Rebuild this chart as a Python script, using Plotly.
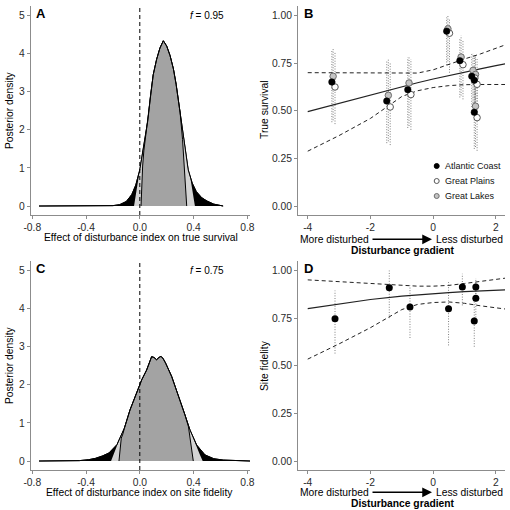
import plotly.graph_objects as go

# ---------------- Panel A: posterior density, true survival ----------------
A_x = [-0.75, -0.5, -0.3, -0.2, -0.15, -0.1, -0.06, -0.03, 0.0, 0.02, 0.04, 0.06, 0.08, 0.10,
       0.125, 0.15, 0.175, 0.20, 0.225, 0.25, 0.27, 0.30, 0.33, 0.36, 0.39, 0.42, 0.46, 0.50,
       0.55, 0.60, 0.62]
A_y = [0, 0, 0.002, 0.01, 0.035, 0.12, 0.3, 0.55, 0.95, 1.35, 1.75, 2.25, 2.9, 3.45,
       3.85, 4.15, 4.34, 4.2, 3.95, 3.6, 3.2, 2.45, 1.6, 0.95, 0.6, 0.38, 0.22, 0.13,
       0.05, 0.015, 0]
A_light_left_x = [-0.043, -0.027, -0.012]
A_light_left_y = [0, 0.4, 0.72]
A_light_right_x = [0.377, 0.393, 0.41]
A_light_right_y = [0.72, 0.38, 0]
A_dark_left_x = [0.009, 0.014, 0.021, 0.03]
A_dark_left_y = [0, 0.55, 1.05, 1.45]
A_dark_right_x = [0.318, 0.327, 0.338, 0.349]
A_dark_right_y = [1.75, 1.15, 0.55, 0]
A_f = "<i>f</i> = 0.95"

# ---------------- Panel C: posterior density, site fidelity ----------------
C_x = [-0.75, -0.55, -0.45, -0.38, -0.33, -0.28, -0.23, -0.17, -0.115, -0.073, -0.023, 0.014,
       0.051, 0.075, 0.088, 0.105, 0.125, 0.143, 0.158, 0.175, 0.192, 0.237, 0.287, 0.336,
       0.374, 0.423, 0.485, 0.55, 0.62, 0.70, 0.82]
C_y = [0, 0.002, 0.01, 0.035, 0.07, 0.13, 0.21, 0.43, 0.86, 1.34, 1.78, 2.13,
       2.39, 2.62, 2.74, 2.72, 2.66, 2.72, 2.75, 2.68, 2.57, 2.22, 1.73, 1.21,
       0.81, 0.42, 0.16, 0.06, 0.025, 0.008, 0]
C_light_left_x = [-0.214, -0.19, -0.165]
C_light_left_y = [0, 0.25, 0.45]
C_light_right_x = [0.40, 0.425, 0.448, 0.468]
C_light_right_y = [0.57, 0.37, 0.16, 0]
C_dark_left_x = [-0.155, -0.148, -0.138, -0.125]
C_dark_left_y = [0, 0.3, 0.6, 0.72]
C_dark_right_x = [0.362, 0.372, 0.385, 0.398]
C_dark_right_y = [0.9, 0.65, 0.3, 0]
C_f = "<i>f</i> = 0.75"

# ---------------- Panel B: true survival vs disturbance ----------------
ac_x = [-3.23, -1.48, -0.81, 0.43, 0.85, 1.23, 1.31, 1.31]
ac_y = [0.651, 0.551, 0.611, 0.918, 0.763, 0.681, 0.660, 0.492]
ac_lo = [0.44, 0.33, 0.41, 0.74, 0.57, 0.52, 0.50, 0.30]
ac_hi = [0.82, 0.76, 0.78, 0.99, 0.88, 0.80, 0.79, 0.68]
gl_x = [-3.19, -1.43, -0.77, 0.47, 0.89, 1.27, 1.35, 1.35]
gl_y = [0.681, 0.581, 0.646, 0.93, 0.782, 0.712, 0.691, 0.524]
gl_lo = [0.45, 0.34, 0.42, 0.76, 0.58, 0.54, 0.52, 0.31]
gl_hi = [0.83, 0.77, 0.785, 1.0, 0.895, 0.80, 0.79, 0.70]
gp_x = [-3.13, -1.37, -0.71, 0.52, 0.95, 1.33, 1.40, 1.40]
gp_y = [0.625, 0.520, 0.585, 0.907, 0.742, 0.672, 0.639, 0.464]
gp_lo = [0.43, 0.32, 0.40, 0.70, 0.56, 0.50, 0.48, 0.29]
gp_hi = [0.81, 0.75, 0.77, 0.98, 0.87, 0.79, 0.78, 0.66]

fit_x = [-4, -3, -2, -1, -0.5, 0, 0.5, 1, 1.5, 2, 2.3]
B_fit = [0.496, 0.54, 0.584, 0.627, 0.647, 0.667, 0.686, 0.703, 0.72, 0.737, 0.747]
B_hi = [0.700, 0.699, 0.697, 0.695, 0.698, 0.715, 0.745, 0.772, 0.798, 0.828, 0.846]
B_lo = [0.288, 0.37, 0.46, 0.575, 0.605, 0.622, 0.632, 0.637, 0.638, 0.638, 0.638]

# ---------------- Panel D: site fidelity vs disturbance ----------------
d_x = [-3.13, -1.40, -0.74, 0.49, 0.93, 1.31, 1.36, 1.36]
d_y = [0.747, 0.910, 0.808, 0.800, 0.913, 0.735, 0.913, 0.855]
d_lo = [0.564, 0.75, 0.646, 0.607, 0.817, 0.60, 0.85, 0.74]
d_hi = [0.895, 1.0, 0.921, 0.939, 0.983, 0.84, 0.96, 0.94]
D_fit = [0.80, 0.825, 0.848, 0.866, 0.873, 0.879, 0.884, 0.889, 0.893, 0.897, 0.899]
D_hi = [0.951, 0.942, 0.932, 0.922, 0.918, 0.918, 0.922, 0.932, 0.943, 0.954, 0.96]
D_lo = [0.535, 0.615, 0.70, 0.795, 0.822, 0.832, 0.835, 0.828, 0.815, 0.805, 0.798]

dens_ticks = [-0.8, -0.4, 0.0, 0.4, 0.8]
dens_ticktext = ["-0.8", "-0.4", "0.0", "0.4", "0.8"]
dens_yticks = [0, 1, 2, 3, 4, 5]
grad_ticks = [-4, -2, 0, 2]
grad_ticktext = ["-4", "-2", "0", "2"]
prob_ticks = [0, 0.25, 0.5, 0.75, 1.0]
prob_ticktext = ["0.00", "0.25", "0.50", "0.75", "1.00"]

FONT = "Liberation Sans, Arial, sans-serif"
W = H = 510

fig = go.Figure()


def px2x(p):
    return p / W


def px2y(p):
    return 1 - p / H


def density_panel(xs, ys, llx, lly, lrx, lry, dlx, dly, drx, dry, xa, ya):
    # full density (black tails)
    fig.add_trace(go.Scatter(x=xs, y=ys, mode="lines", fill="toself", fillcolor="black",
                             line=dict(color="black", width=1), xaxis=xa, yaxis=ya,
                             showlegend=False, hoverinfo="skip"))
    # light grey interval
    mx = [v for v in xs if llx[-1] < v < lrx[0]]
    my = [ys[i] for i, v in enumerate(xs) if llx[-1] < v < lrx[0]]
    fig.add_trace(go.Scatter(x=llx + mx + lrx, y=lly + my + lry, mode="lines", fill="toself",
                             fillcolor="#d4d4d4", line=dict(width=0, color="#d4d4d4"),
                             xaxis=xa, yaxis=ya, showlegend=False, hoverinfo="skip"))
    # dark grey interval
    mx = [v for v in xs if dlx[-1] < v < drx[0]]
    my = [ys[i] for i, v in enumerate(xs) if dlx[-1] < v < drx[0]]
    fig.add_trace(go.Scatter(x=dlx + mx + drx, y=dly + my + dry, mode="lines", fill="toself",
                             fillcolor="#a3a3a3", line=dict(width=1, color="black"),
                             xaxis=xa, yaxis=ya, showlegend=False, hoverinfo="skip"))
    # outline on top
    fig.add_trace(go.Scatter(x=xs, y=ys, mode="lines", line=dict(color="black", width=1),
                             xaxis=xa, yaxis=ya, showlegend=False, hoverinfo="skip"))


density_panel(A_x, A_y, A_light_left_x, A_light_left_y, A_light_right_x, A_light_right_y,
              A_dark_left_x, A_dark_left_y, A_dark_right_x, A_dark_right_y, "x", "y")
density_panel(C_x, C_y, C_light_left_x, C_light_left_y, C_light_right_x, C_light_right_y,
              C_dark_left_x, C_dark_left_y, C_dark_right_x, C_dark_right_y, "x3", "y3")


def errbars(xs, lo, hi, xa, ya, color="#808080"):
    ex, ey = [], []
    for x, l, h in zip(xs, lo, hi):
        ex += [x, x, None]
        ey += [l, h, None]
    fig.add_trace(go.Scatter(x=ex, y=ey, mode="lines",
                             line=dict(color=color, width=1, dash="1px,1.6px"),
                             xaxis=xa, yaxis=ya, showlegend=False, hoverinfo="skip"))


def fitlines(fx, fit, lo, hi, xa, ya):
    for arr, dash, w in [(lo, "4px,3px", 1), (hi, "4px,3px", 1), (fit, "solid", 1.2)]:
        fig.add_trace(go.Scatter(x=fx, y=arr, mode="lines",
                                 line=dict(color="#222", width=w, dash=dash),
                                 xaxis=xa, yaxis=ya, showlegend=False, hoverinfo="skip"))


# Panel B
errbars(ac_x, ac_lo, ac_hi, "x2", "y2")
errbars(gl_x, gl_lo, gl_hi, "x2", "y2")
errbars(gp_x, gp_lo, gp_hi, "x2", "y2")
fitlines(fit_x, B_fit, B_lo, B_hi, "x2", "y2")
fig.add_trace(go.Scatter(x=gl_x, y=gl_y, mode="markers", xaxis="x2", yaxis="y2",
                         marker=dict(size=6.5, color="#c4c4c4", line=dict(color="#6e6e6e", width=1)),
                         showlegend=False))
fig.add_trace(go.Scatter(x=gp_x, y=gp_y, mode="markers", xaxis="x2", yaxis="y2",
                         marker=dict(size=6.5, color="white", line=dict(color="#555", width=1)),
                         showlegend=False))
fig.add_trace(go.Scatter(x=ac_x, y=ac_y, mode="markers", xaxis="x2", yaxis="y2",
                         marker=dict(size=6.5, color="black", line=dict(color="black", width=0.5)),
                         showlegend=False))

# Panel D
errbars(d_x, d_lo, d_hi, "x4", "y4")
fitlines(fit_x, D_fit, D_lo, D_hi, "x4", "y4")
fig.add_trace(go.Scatter(x=d_x, y=d_y, mode="markers", xaxis="x4", yaxis="y4",
                         marker=dict(size=7, color="black"), showlegend=False))

# ---------------- axes ----------------
axis_common = dict(showline=True, linecolor="#8c8c8c", linewidth=1, ticks="outside", ticklen=3,
                   tickcolor="#8c8c8c", showgrid=False, zeroline=False, automargin=False,
                   tickfont=dict(family=FONT, size=10.3, color="#2a2a2a"), fixedrange=True)

xA = [px2x(30.7), px2x(250)]
xB = [px2x(298), px2x(505)]
yTop = [px2y(215), px2y(6)]
yBot = [px2y(470), px2y(261)]

fig.update_layout(
    template="none",
    width=W, height=H, margin=dict(l=0, r=0, t=0, b=0, autoexpand=False),
    paper_bgcolor="white", plot_bgcolor="white", showlegend=False,
    xaxis=dict(domain=xA, range=[-0.812, 0.82], tickvals=dens_ticks, ticktext=dens_ticktext,
               anchor="y", **axis_common),
    yaxis=dict(domain=yTop, range=[-0.236, 5.254], tickvals=dens_yticks, anchor="x", **axis_common),
    xaxis2=dict(domain=xB, range=[-4.31, 2.29], tickvals=grad_ticks, ticktext=grad_ticktext,
                anchor="y2", **axis_common),
    yaxis2=dict(domain=yTop, range=[-0.047, 1.05], tickvals=prob_ticks, ticktext=prob_ticktext,
                anchor="x2", **axis_common),
    xaxis3=dict(domain=xA, range=[-0.812, 0.82], tickvals=dens_ticks, ticktext=dens_ticktext,
                anchor="y3", **axis_common),
    yaxis3=dict(domain=yBot, range=[-0.236, 5.254], tickvals=dens_yticks, anchor="x3", **axis_common),
    xaxis4=dict(domain=xB, range=[-4.31, 2.29], tickvals=grad_ticks, ticktext=grad_ticktext,
                anchor="y4", **axis_common),
    yaxis4=dict(domain=yBot, range=[-0.047, 1.05], tickvals=prob_ticks, ticktext=prob_ticktext,
                anchor="x4", **axis_common),
)

# vertical dashed line at zero
for xr, yr in [("x", "y domain"), ("x3", "y3 domain")]:
    fig.add_shape(type="line", xref=xr, yref=yr, x0=0, x1=0, y0=0, y1=1,
                  line=dict(color="black", width=1, dash="4px,3px"))

ann = []


def text(x, y, t, size=10.3, bold=False, rot=0, xanchor="center", color="black"):
    if bold:
        t = "<b>" + t + "</b>"
    ann.append(dict(x=px2x(x), y=px2y(y), xref="paper", yref="paper", text=t, showarrow=False,
                    xanchor=xanchor, yanchor="middle", textangle=rot,
                    font=dict(family=FONT, size=size, color=color)))


# panel letters
text(40.5, 13, "A", size=13, bold=True)
text(308, 13, "B", size=13, bold=True)
text(40.5, 268, "C", size=13, bold=True)
text(308, 268, "D", size=13, bold=True)
# f values
text(207, 15, A_f, size=10)
text(207, 270, C_f, size=10)
# axis titles
text(9, 110, "Posterior density", rot=-90)
text(9, 365, "Posterior density", rot=-90)
text(264, 110, "True survival", rot=-90)
text(264, 366, "Site fidelity", rot=-90)
text(140.5, 237, "Effect of disturbance index on true survival")
text(139.7, 492, "Effect of disturbance index on site fidelity")
for yoff in [0, 253]:
    text(334, 239.3 + yoff, "More disturbed")
    text(469, 239.3 + yoff, "Less disturbed")
    text(402.5, 250.7 + yoff, "Disturbance gradient", bold=True)
    ann.append(dict(x=px2x(432), y=px2y(239.3 + yoff), xref="paper", yref="paper", text="",
                    showarrow=True, ax=-61, ay=0, arrowhead=2, arrowsize=1.3, arrowwidth=1.5,
                    arrowcolor="black", standoff=0, startstandoff=0))

# legend (panel B)
legend_items = ["Atlantic Coast", "Great Plains", "Great Lakes"]
legend_fill = ["black", "white", "#c4c4c4"]
legend_line = ["black", "#555", "#6e6e6e"]
for i, (lab, fc, lc) in enumerate(zip(legend_items, legend_fill, legend_line)):
    yy = 166 + i * 15
    text(443, yy, lab, size=9, xanchor="left", color="#111")
    fig.add_shape(type="circle", xref="paper", yref="paper", xsizemode="pixel", ysizemode="pixel",
                  xanchor=px2x(436.7), yanchor=px2y(yy), x0=-2.5, x1=2.5, y0=-2.5, y1=2.5,
                  fillcolor=fc, line=dict(color=lc, width=1))

fig.update_layout(annotations=ann)
fig.write_html("out.html", config={"displayModeBar": False, "staticPlot": True},
               post_script="document.body.style.margin='0';document.body.style.padding='0';"
                           "document.documentElement.style.overflow='hidden';")
